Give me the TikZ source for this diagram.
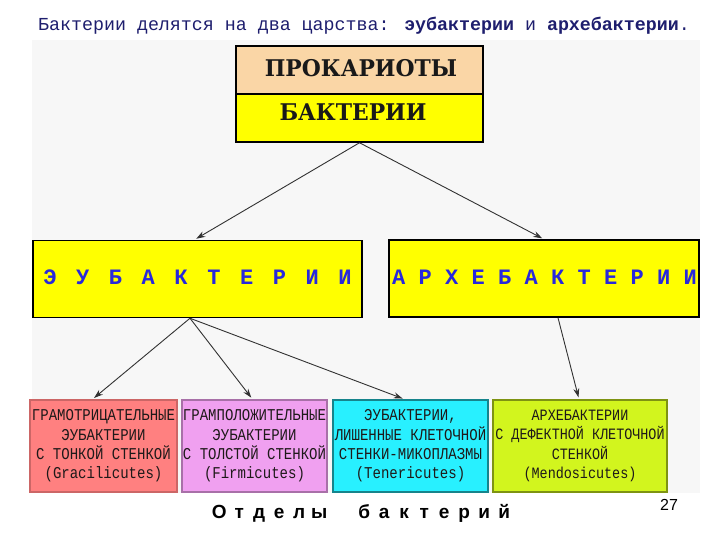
\documentclass[tikz,border=0pt]{standalone}
\usepackage{fontspec}
\usetikzlibrary{arrows.meta}
\newfontfamily\monof{Liberation Mono}
\newfontfamily\boxf[FakeStretch=0.85]{Liberation Mono}
\newfontfamily\slabf[FakeStretch=0.95]{DejaVu Serif}
\newfontfamily\sansf{Liberation Sans}
\definecolor{titleblue}{RGB}{30,30,110}
\definecolor{panel}{RGB}{247,247,247}
\definecolor{peach}{RGB}{250,214,166}
\definecolor{yel}{RGB}{255,255,0}
\definecolor{eubblue}{RGB}{40,40,220}
\definecolor{redbox}{RGB}{255,128,128}
\definecolor{pinkbox}{RGB}{240,160,240}
\definecolor{cyanbox}{RGB}{40,240,255}
\definecolor{limebox}{RGB}{210,245,30}
\definecolor{boxtext}{RGB}{30,25,25}
\definecolor{arrowcol}{RGB}{50,50,50}
\newlength\pitch
\newcommand\lb[1]{\makebox[\pitch]{#1}}
\newcommand\spreadletters[2]{\gdef\lettersep{}\foreach \c in {#2}{\lettersep\c\gdef\lettersep{\hspace{#1}}}}
\tikzset{
  ybox/.style={draw=black, line width=1.5pt, inner sep=0pt, minimum width=#1, minimum height=77pt, fill=yel},
  topbox/.style={draw=black, line width=1.5pt, inner sep=0pt, minimum width=247pt, minimum height=48pt},
  toptext/.style={inner sep=0pt, text=black!90, font=\slabf\bfseries\fontsize{23}{24}\selectfont},
  kingtext/.style={inner sep=0pt, text=eubblue, font=\monof\bfseries\fontsize{22}{24}\selectfont},
  cbox/.style={line width=1.5pt, inner sep=0pt, minimum height=92pt, align=center,
     text=boxtext, font=\boxf\fontsize{16.5}{19.3}\selectfont},
  arr/.style={draw=arrowcol, line width=0.9pt, -{Stealth[length=9pt,width=6pt]}, shorten >=2pt},
}
\begin{document}
\begin{tikzpicture}[x=1pt,y=-1pt]
\useasboundingbox (0,0) rectangle (720,540);
\fill[white] (0,0) rectangle (720,540);
\fill[panel] (32,40) rectangle (700,493);
% title
\node[anchor=base west, inner sep=0pt, text=titleblue, font=\monof\fontsize{18.3}{20}\selectfont] (title) at (38,31)
  {Бактерии делятся на два царства: \textbf{эубактерии} и \textbf{архебактерии}.};
% top boxes
\node[topbox, fill=peach] (prok) at (359.5,70) {};
\node[topbox, fill=yel] (bakt) at (359.5,118) {};
\node[toptext] (prokt) at (361,68) {ПРОКАРИОТЫ};
\node[toptext] (baktt) at (353,112) {БАКТЕРИИ};
% kingdoms
\node[ybox=329pt] (eub) at (197.5,279) {};
\node[ybox=310pt] (arch) at (544,278.5) {};
\node[kingtext] (eubt) at (197.5,277) {\spreadletters{19.6pt}{Э,У,Б,А,К,Т,Е,Р,И,И}};
\node[kingtext] (archt) at (544.5,277) {\spreadletters{13.3pt}{А,Р,Х,Е,Б,А,К,Т,Е,Р,И,И}};
% divisions
\node[cbox, draw=redbox!80!black, fill=redbox, minimum width=147pt] (red) at (103.5,446)
  {ГРАМОТРИЦАТЕЛЬНЫЕ\\ЭУБАКТЕРИИ\\С ТОНКОЙ СТЕНКОЙ\\(Gracilicutes)};
\node[cbox, draw=pinkbox!70!black, fill=pinkbox, minimum width=145pt] (pink) at (254.5,446)
  {ГРАМПОЛОЖИТЕЛЬНЫЕ\\ЭУБАКТЕРИИ\\С ТОЛСТОЙ СТЕНКОЙ\\(Firmicutes)};
\node[cbox, draw=cyanbox!55!black, fill=cyanbox, minimum width=155pt] (cyan) at (410.5,446)
  {ЭУБАКТЕРИИ,\\ЛИШЕННЫЕ КЛЕТОЧНОЙ\\СТЕНКИ-МИКОПЛАЗМЫ\\(Tenericutes)};
\node[cbox, draw=limebox!60!black, fill=limebox, minimum width=174pt, font=\boxf\fontsize{15.8}{19.3}\selectfont] (lime) at (580,446)
  {АРХЕБАКТЕРИИ\\С ДЕФЕКТНОЙ КЛЕТОЧНОЙ\\СТЕНКОЙ\\(Mendosicutes)};
% arrows
\draw[arr] (bakt.south) -- ([xshift=-3pt]eub.north);
\draw[arr] (bakt.south) -- (arch.north);
\draw[arr] ([xshift=-7.5pt]eub.south) -- ([xshift=-11pt]red.north);
\draw[arr] ([xshift=-7.5pt]eub.south) -- ([xshift=-2pt]pink.north);
\draw[arr] ([xshift=-7.5pt]eub.south) -- ([xshift=-6pt]cyan.north);
\draw[arr] ([xshift=14pt]arch.south) -- ([xshift=-1pt]lime.north);
% caption
\node[anchor=base west, inner sep=0pt, font=\sansf\bfseries\fontsize{19}{20}\selectfont] (caption) at (209,518)
  {\setlength\pitch{20pt}\lb{О}\lb{т}\lb{д}\lb{е}\lb{л}\lb{ы}\hspace{25pt}\setlength\pitch{20pt}\lb{б}\lb{а}\lb{к}\lb{т}\lb{е}\lb{р}\lb{и}\lb{й}};
\node[anchor=base west, inner sep=0pt, font=\sansf\fontsize{16}{18}\selectfont] (page) at (660,510) {27};
\end{tikzpicture}
\end{document}
